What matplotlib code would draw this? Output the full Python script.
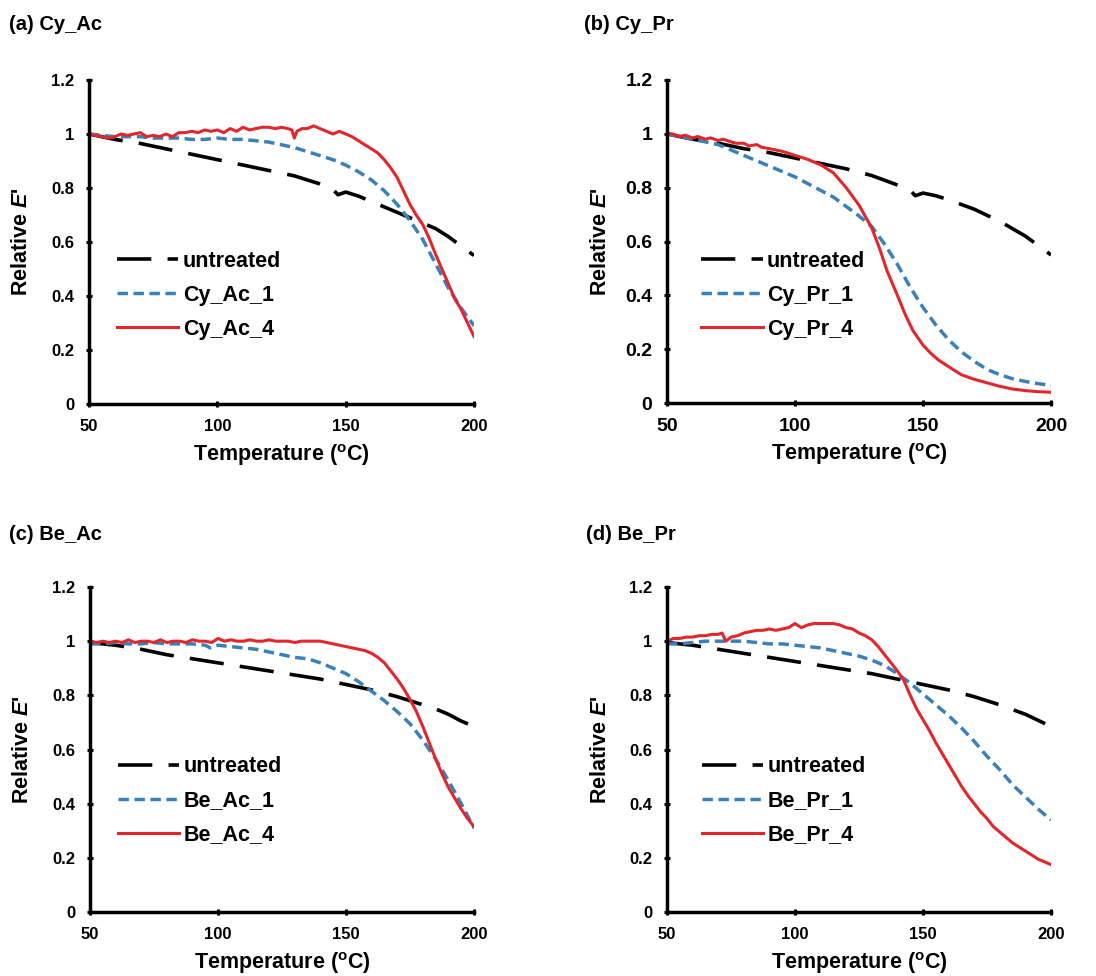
import matplotlib.pyplot as plt

plt.rcParams["font.family"] = ["Liberation Sans", "DejaVu Sans"]
plt.rcParams["font.weight"] = "bold"
plt.rcParams["mathtext.fontset"] = "custom"
plt.rcParams["mathtext.rm"] = "Liberation Sans:bold"
plt.rcParams["mathtext.it"] = "Liberation Sans:bold:italic"
plt.rcParams["mathtext.bf"] = "Liberation Sans:bold"

# ---- (a) Cy_Ac ----
a_untreated_T = [50, 55, 60, 70, 80, 90, 100, 110, 120, 130, 140, 145, 147, 150, 155,
                 160, 165, 170, 175, 180, 185, 190, 195, 200]
a_untreated_E = [1.0, 0.99, 0.98, 0.965, 0.945, 0.925, 0.905, 0.885, 0.865, 0.845, 0.815,
                 0.795, 0.775, 0.785, 0.77, 0.75, 0.73, 0.71, 0.69, 0.67, 0.65, 0.62,
                 0.585, 0.55]
a_s1_T = [50, 55, 60, 65, 70, 75, 80, 85, 90, 95, 100, 105, 110, 115, 120, 125, 130, 135,
          140, 145, 150, 155, 160, 165, 170, 175, 180, 185, 190, 195, 200]
a_s1_E = [1.0, 0.995, 0.99, 0.99, 0.99, 0.985, 0.985, 0.985, 0.98, 0.98, 0.985, 0.98,
          0.98, 0.975, 0.97, 0.96, 0.95, 0.935, 0.92, 0.905, 0.885, 0.86, 0.83, 0.79,
          0.74, 0.68, 0.61, 0.52, 0.43, 0.355, 0.29]
a_s4_T = [50, 52.5, 55, 57.5, 60, 62.5, 65, 67.5, 70, 72.5, 75, 77.5, 80, 82.5, 85, 87.5,
          90, 92.5, 95, 97.5, 100, 102.5, 105, 107.5, 110, 112.5, 115, 117.5, 120, 122.5,
          125, 127.5, 129, 130, 131, 133, 135, 137.5, 140, 142.5, 145, 147.5, 150, 152.5,
          155, 157.5, 160, 162.5, 165, 167.5, 170, 172.5, 175, 177.5, 180, 182.5, 185,
          187.5, 190, 192.5, 195, 197.5, 200]
a_s4_E = [1.0, 0.995, 0.99, 0.985, 0.99, 1.0, 0.995, 1.0, 1.005, 0.99, 0.995, 0.99, 1.0,
          0.99, 1.005, 1.005, 1.01, 1.005, 1.015, 1.01, 1.015, 1.005, 1.02, 1.01, 1.025,
          1.015, 1.02, 1.025, 1.025, 1.02, 1.025, 1.02, 1.015, 0.985, 1.01, 1.02, 1.02,
          1.03, 1.02, 1.01, 1.0, 1.01, 1.0, 0.99, 0.975, 0.96, 0.945, 0.93, 0.905, 0.875,
          0.84, 0.79, 0.74, 0.70, 0.665, 0.615, 0.555, 0.50, 0.445, 0.39, 0.35, 0.30, 0.25]

# ---- (b) Cy_Pr ----
b_untreated_T = [50, 60, 70, 80, 90, 100, 110, 120, 130, 140, 145, 147, 150, 155, 160,
                 170, 180, 190, 200]
b_untreated_E = [1.0, 0.98, 0.965, 0.945, 0.93, 0.91, 0.89, 0.87, 0.845, 0.81, 0.79,
                 0.77, 0.78, 0.77, 0.755, 0.72, 0.675, 0.62, 0.55]
b_s1_T = [50, 55, 60, 65, 70, 75, 80, 85, 90, 95, 100, 105, 110, 115, 120, 125, 130, 135,
          140, 145, 150, 155, 160, 165, 170, 175, 180, 185, 190, 195, 200]
b_s1_E = [1.0, 0.99, 0.98, 0.97, 0.96, 0.94, 0.92, 0.9, 0.88, 0.86, 0.84, 0.815, 0.79,
          0.765, 0.73, 0.695, 0.655, 0.59, 0.515, 0.43, 0.355, 0.29, 0.235, 0.19, 0.155,
          0.125, 0.105, 0.09, 0.08, 0.072, 0.065]
b_s4_T = [50, 52, 55, 57, 60, 62, 65, 67, 70, 72, 75, 77, 80, 82, 85, 87, 90, 95, 100, 105,
          110, 115, 120, 125, 130, 133, 136, 140, 143, 146, 150, 153, 156, 160, 165, 170,
          175, 180, 185, 190, 195, 200]
b_s4_E = [1.0, 1.0, 0.99, 0.995, 0.985, 0.99, 0.98, 0.985, 0.975, 0.98, 0.97, 0.965,
          0.965, 0.955, 0.96, 0.95, 0.945, 0.935, 0.92, 0.905, 0.885, 0.855, 0.80, 0.735,
          0.65, 0.575, 0.49, 0.40, 0.33, 0.27, 0.215, 0.185, 0.16, 0.135, 0.105, 0.088,
          0.075, 0.062, 0.052, 0.046, 0.042, 0.04]

# ---- (c) Be_Ac ----
c_untreated_T = [50, 60, 70, 80, 90, 100, 110, 120, 130, 140, 150, 160, 170, 175, 180,
                 185, 190, 195, 200]
c_untreated_E = [0.995, 0.985, 0.97, 0.95, 0.935, 0.92, 0.905, 0.89, 0.875, 0.86, 0.84,
                 0.82, 0.795, 0.78, 0.765, 0.75, 0.73, 0.705, 0.685]
c_s1_T = [50, 55, 60, 65, 70, 75, 80, 85, 90, 95, 97, 100, 105, 110, 115, 120, 125, 130,
          135, 140, 145, 150, 155, 160, 165, 170, 175, 180, 185, 190, 195, 200]
c_s1_E = [0.99, 0.99, 0.995, 0.99, 0.99, 0.995, 0.99, 0.99, 0.99, 0.985, 0.975, 0.985,
          0.98, 0.975, 0.97, 0.96, 0.95, 0.94, 0.935, 0.92, 0.9, 0.88, 0.85, 0.815, 0.78,
          0.74, 0.695, 0.635, 0.565, 0.485, 0.4, 0.31]
c_s4_T = [50, 52.5, 55, 57.5, 60, 62.5, 65, 67.5, 70, 72.5, 75, 77.5, 80, 82.5, 85, 87.5,
          90, 92.5, 95, 97.5, 100, 102.5, 105, 107.5, 110, 112.5, 115, 117.5, 120, 122.5,
          125, 127.5, 130, 132.5, 135, 137.5, 140, 142.5, 145, 147.5, 150, 152.5, 155,
          157.5, 160, 162.5, 165, 167.5, 170, 172.5, 175, 177.5, 180, 182.5, 185, 187.5,
          190, 192.5, 195, 197.5, 200]
c_s4_E = [1.0, 0.995, 1.0, 0.995, 1.0, 0.995, 1.005, 0.995, 1.0, 1.0, 0.995, 1.005, 0.995,
          1.0, 1.0, 0.995, 1.005, 1.0, 1.0, 0.995, 1.01, 1.0, 1.005, 1.0, 1.0, 1.005, 1.0,
          1.0, 1.005, 1.0, 1.0, 1.0, 0.995, 1.0, 1.0, 1.0, 1.0, 0.995, 0.99, 0.985, 0.98,
          0.975, 0.97, 0.965, 0.955, 0.94, 0.92, 0.89, 0.86, 0.825, 0.785, 0.74, 0.685,
          0.625, 0.565, 0.51, 0.46, 0.42, 0.38, 0.345, 0.315]

# ---- (d) Be_Pr ----
d_untreated_T = [50, 60, 70, 80, 90, 100, 110, 120, 130, 140, 150, 160, 170, 180, 190, 200]
d_untreated_E = [0.995, 0.985, 0.97, 0.955, 0.94, 0.925, 0.91, 0.895, 0.88, 0.86, 0.84,
                 0.82, 0.795, 0.765, 0.73, 0.685]
d_s1_T = [50, 55, 60, 65, 70, 75, 80, 85, 90, 95, 100, 105, 110, 115, 120, 125, 130, 135,
          140, 145, 150, 155, 160, 165, 170, 175, 180, 185, 190, 195, 200]
d_s1_E = [0.99, 0.99, 0.995, 1.0, 1.0, 1.0, 1.0, 0.995, 0.99, 0.99, 0.985, 0.98, 0.975,
          0.965, 0.955, 0.945, 0.93, 0.91, 0.88, 0.845, 0.805, 0.765, 0.725, 0.68, 0.63,
          0.575, 0.525, 0.47, 0.425, 0.38, 0.34]
d_s4_T = [50, 52.5, 55, 57.5, 60, 62.5, 65, 67.5, 70, 71.5, 73, 75, 77.5, 80, 82.5, 85,
          87.5, 90, 92.5, 95, 97.5, 100, 102.5, 105, 107.5, 110, 112.5, 115, 117.5, 120,
          122.5, 125, 127.5, 130, 132.5, 135, 137.5, 140, 142.5, 145, 147.5, 150, 152.5,
          155, 157.5, 160, 162.5, 165, 167.5, 170, 172.5, 175, 177.5, 180, 182.5, 185,
          187.5, 190, 192.5, 195, 197.5, 200]
d_s4_E = [1.0, 1.01, 1.01, 1.015, 1.015, 1.02, 1.02, 1.025, 1.025, 1.03, 1.0, 1.015, 1.02,
          1.03, 1.035, 1.04, 1.04, 1.045, 1.04, 1.045, 1.05, 1.065, 1.05, 1.06, 1.065,
          1.065, 1.065, 1.065, 1.06, 1.05, 1.045, 1.03, 1.02, 1.005, 0.98, 0.95, 0.92,
          0.89, 0.855, 0.80, 0.75, 0.71, 0.67, 0.625, 0.585, 0.545, 0.505, 0.465, 0.43,
          0.40, 0.37, 0.345, 0.315, 0.295, 0.275, 0.255, 0.24, 0.225, 0.21, 0.195, 0.185,
          0.175]

panel_titles = ["(a) Cy_Ac", "(b) Cy_Pr", "(c) Be_Ac", "(d) Be_Pr"]
panel_labels = [["untreated", "Cy_Ac_1", "Cy_Ac_4"],
                ["untreated", "Cy_Pr_1", "Cy_Pr_4"],
                ["untreated", "Be_Ac_1", "Be_Ac_4"],
                ["untreated", "Be_Pr_1", "Be_Pr_4"]]
panel_data = [
    [(a_untreated_T, a_untreated_E), (a_s1_T, a_s1_E), (a_s4_T, a_s4_E)],
    [(b_untreated_T, b_untreated_E), (b_s1_T, b_s1_E), (b_s4_T, b_s4_E)],
    [(c_untreated_T, c_untreated_E), (c_s1_T, c_s1_E), (c_s4_T, c_s4_E)],
    [(d_untreated_T, d_untreated_E), (d_s1_T, d_s1_E), (d_s4_T, d_s4_E)],
]
x_ticks = [50, 100, 150, 200]
y_ticks = [0, 0.2, 0.4, 0.6, 0.8, 1.0, 1.2]
y_ticklabels = ["0", "0.2", "0.4", "0.6", "0.8", "1", "1.2"]

W, H = 1096, 976
fig = plt.figure(figsize=(W / 100, H / 100), dpi=100)

# axes boxes in pixels: left, top, right, bottom
boxes = [(89, 80, 474, 404), (667, 80, 1051, 403),
         (90, 587, 474, 912), (667, 587, 1051, 912)]
title_pos = [(9, 25), (584, 25), (9, 535), (586, 535)]
legend_pos = [(0.073, 0.336), (0.089, 0.334), (0.073, 0.342), (0.091, 0.342)]
tick_size = [12, 14, 12, 12]   # panel (b) was exported with larger tick labels

styles = [dict(color="black", lw=2.6, dashes=(9.5, 4.5)),
          dict(color="#3A80BA", lw=2.5, dashes=(3.0, 1.6)),
          dict(color="#E3262B", lw=2.2)]

for i in range(4):
    l, t, r, b = boxes[i]
    ax = fig.add_axes([l / W, 1 - b / H, (r - l) / W, (b - t) / H])
    for (T, E), lab, st in zip(panel_data[i], panel_labels[i], styles):
        ax.plot(T, E, label=lab, **st)

    ax.set_xlim(50, 200)
    ax.set_ylim(0, 1.2)
    ax.set_xticks(x_ticks)
    ax.set_yticks(y_ticks)
    ax.set_yticklabels(y_ticklabels)
    for side in ["top", "right"]:
        ax.spines[side].set_visible(False)
    for side in ["left", "bottom"]:
        ax.spines[side].set_linewidth(2.5)
    ax.tick_params(direction="inout", length=5, width=2.2, pad=8, labelsize=tick_size[i])

    ax.set_xlabel(r"Temperature ($^{\rm o}$C)", fontsize=15.5, fontweight="bold", va="center")
    ax.xaxis.set_label_coords(0.5, -51 / (b - t))
    ax.set_ylabel(r"Relative $E$'", fontsize=15.5, fontweight="bold", va="center")
    ax.yaxis.set_label_coords(-67 / (r - l), 0.5)

    ax.legend(loc="center left", bbox_to_anchor=legend_pos[i], frameon=False,
              fontsize=15.5, handlelength=2.85, handletextpad=0.2, labelspacing=0.6,
              borderpad=0, borderaxespad=0)

    tx, ty = title_pos[i]
    fig.text(tx / W, 1 - ty / H, panel_titles[i], fontsize=14.5, fontweight="bold",
             ha="left", va="center")

fig.savefig("out.png", dpi=100)
